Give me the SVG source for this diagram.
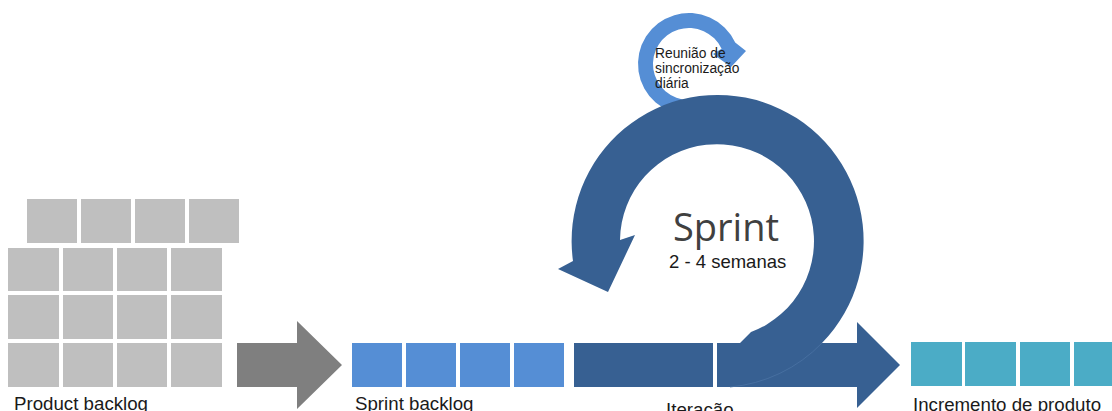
<svg xmlns="http://www.w3.org/2000/svg" width="1112" height="411" viewBox="0 0 1112 411">
  <style>
    .pb { fill: #BFBFBF; }
    .sb { fill: #558ED5; }
    .inc { fill: #4BACC6; }
    .dark { fill: #376092; }
    .lbl { font-family: "Liberation Sans", Arial, sans-serif; font-size: 18.7px; fill: #1a1a1a; }
    .small { font-family: "Liberation Sans", Arial, sans-serif; font-size: 13.8px; fill: #1a1a1a; }
  </style>
  <rect width="1112" height="411" fill="#ffffff"/>

  <!-- Product backlog: stacked grey items -->
  <g id="product-backlog">
    <rect class="pb" x="27" y="199" width="50" height="44"/>
    <rect class="pb" x="81" y="199" width="50" height="44"/>
    <rect class="pb" x="135" y="199" width="50" height="44"/>
    <rect class="pb" x="189" y="199" width="50" height="44"/>
    <rect class="pb" x="8" y="248" width="51" height="43"/>
    <rect class="pb" x="63" y="248" width="50" height="43"/>
    <rect class="pb" x="117" y="248" width="50" height="43"/>
    <rect class="pb" x="171" y="248" width="51" height="43"/>
    <rect class="pb" x="8" y="295" width="51" height="44"/>
    <rect class="pb" x="63" y="295" width="50" height="44"/>
    <rect class="pb" x="117" y="295" width="50" height="44"/>
    <rect class="pb" x="171" y="295" width="51" height="44"/>
    <rect class="pb" x="8" y="343" width="51" height="44"/>
    <rect class="pb" x="63" y="343" width="50" height="44"/>
    <rect class="pb" x="117" y="343" width="50" height="44"/>
    <rect class="pb" x="171" y="343" width="51" height="44"/>
    <text class="lbl" x="14" y="410">Product backlog</text>
  </g>

  <!-- Sprint backlog -->
  <g id="sprint-backlog">
    <rect class="sb" x="352" y="343" width="50" height="44"/>
    <rect class="sb" x="406" y="343" width="50" height="44"/>
    <rect class="sb" x="460" y="343" width="50" height="44"/>
    <rect class="sb" x="514" y="343" width="50" height="44"/>
    <text class="lbl" x="355" y="410">Sprint backlog</text>
  </g>

  <!-- Iteration block -->
  <g id="iteracao">
    <rect class="dark" x="574" y="343" width="139" height="44"/>
    <text class="lbl" x="666" y="416">Iteração</text>
  </g>

  <!-- Product increment -->
  <g id="incremento">
    <rect class="inc" x="911" y="342" width="51" height="44"/>
    <rect class="inc" x="965" y="342" width="51" height="44"/>
    <rect class="inc" x="1020" y="342" width="50" height="44"/>
    <rect class="inc" x="1074" y="342" width="50" height="44"/>
    <text class="lbl" x="913" y="411">Incremento de produto</text>
  </g>

  <!-- Daily meeting loop -->
  <g id="daily-scrum">
    <path fill="#558ED5" d="M 689,115 A 51 51 0 1 1 735.2,42.4 L 746,51 L 731,67 L 713,54 L 721.6,48.8 A 36 36 0 1 0 689,100 Z"/>
    <text class="small" x="655" y="58">Reunião de</text>
    <text class="small" x="655" y="73">sincronização</text>
    <text class="small" x="655" y="88">diária</text>
  </g>

  <!-- Connectors -->
  <g id="connectors">
    <polygon fill="#7F7F7F" points="237,343 297,343 297,321 342,365 297,409 297,387 237,387"/>
    <path class="dark" d="M 620,240 A 97 97 0 1 1 751,332 L 740,343 L 717,343 L 717,387 L 857,387 L 857,408 L 900,365 L 857,322 L 857,343 L 822,343 A 146 146 0 1 0 573,261 L 558,269 L 608,292 L 635,235 Z"/>
    <path d="M 822,343 A 146 146 0 0 1 730,387" fill="none" stroke="#4a72a3" stroke-width="0.8"/>
  </g>

  <!-- Sprint label -->
  <g id="sprint">
    <text x="673" y="241" font-family="'Open Sans', 'Noto Sans', sans-serif" font-size="38" fill="#404040">Sprint</text>
    <text x="669" y="268" font-family="'Liberation Sans', Arial, sans-serif" font-size="18.5" fill="#1a1a1a">2 - 4 semanas</text>
  </g>
</svg>
